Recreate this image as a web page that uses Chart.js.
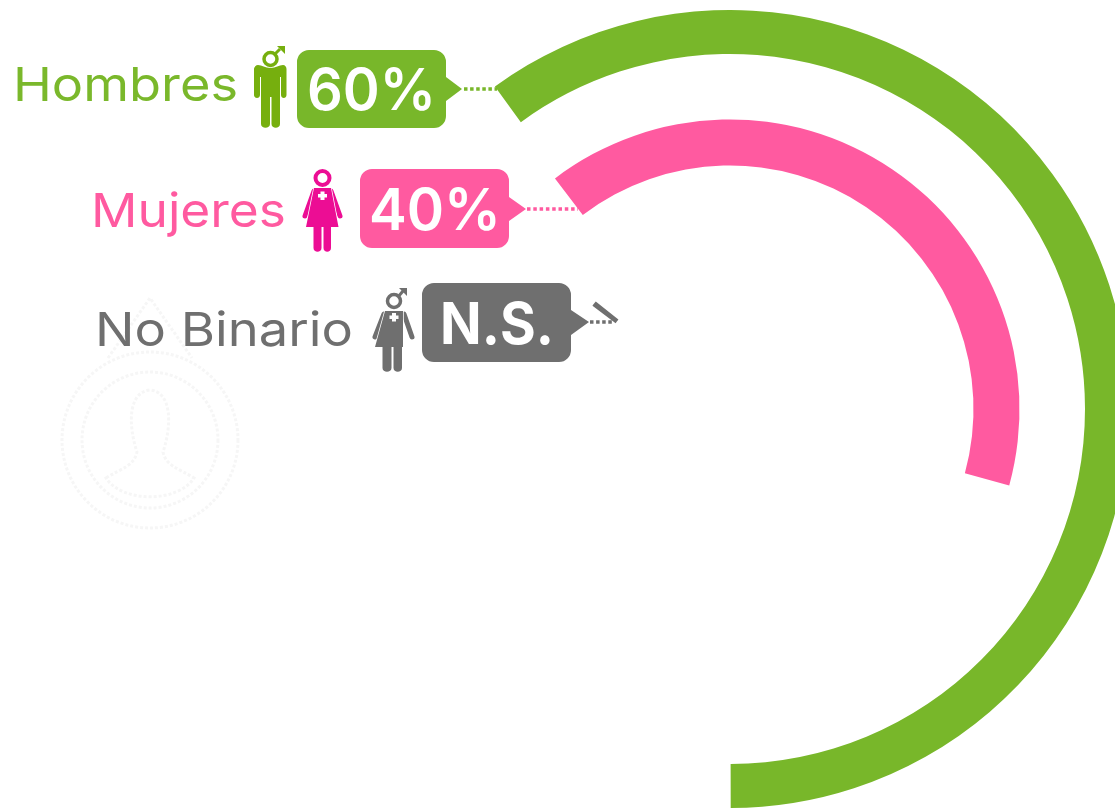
<!DOCTYPE html>
<html lang="es"><head><meta charset="utf-8">
<script src="https://cdn.jsdelivr.net/npm/chart.js@4"></script>
<style>
html,body{margin:0;padding:0;width:1115px;height:808px;overflow:hidden;background:#fff}
#wrap{position:relative;width:1115px;height:808px;overflow:hidden}
#c{position:absolute;left:331px;top:10px}
svg{position:absolute;left:0;top:0}
text{font-family:Inter,"Open Sans",sans-serif}
</style></head><body>
<div id="wrap">
<svg width="1115" height="808" viewBox="0 0 1115 808" xmlns="http://www.w3.org/2000/svg">
 <!-- faint stamp -->
 <g fill="none" stroke="#f6f6f6" stroke-width="3" stroke-dasharray="3 2">
  <circle cx="150" cy="440" r="88"/><circle cx="150" cy="440" r="68"/>
  <path d="M108 358L150 298L192 358"/>
  <path d="M106 478C122 468 134 466 137 452C128 425 128 392 150 390C172 392 172 425 163 452C166 466 178 468 194 478C178 503 122 503 106 478Z"/>
 </g>
 <!-- Hombres -->
 <text x="13" y="101" font-size="47" fill="#7AB82B" textLength="225" lengthAdjust="spacingAndGlyphs">Hombres</text>
 <g fill="#76AF0E">
  <circle cx="270.5" cy="59" r="6.5" fill="none" stroke="#76AF0E" stroke-width="3.5"/>
  <path d="M274 55L280 49" stroke="#76AF0E" stroke-width="3" />
  <path d="M277 46H285V54Z"/>
  <path d="M258 65C262 65 265 68 270.5 68C276 68 279 65 283 65C285 65 286.500 67 286.500 69V95C286.500 99 281 99 281 95V77H280V124C280 129 271.500 129 271.500 124V97H270V124C270 129 261 129 261 124V77H260V95C260 99 254 99 254 95V69C254 67 256 65 258 65Z"/>
 </g>
 <path d="M309 50H434a12 12 0 0 1 12 12V77L462 89L446 101V116a12 12 0 0 1-12 12H309a12 12 0 0 1-12-12V62a12 12 0 0 1 12-12Z" fill="#78B72A"/>
 <text x="307" y="110" font-size="58" font-weight="600" fill="#fff" textLength="129" lengthAdjust="spacingAndGlyphs">60%</text>
 <path d="M464 89H497" stroke="#78B72A" stroke-width="3.5" stroke-dasharray="3.500 2.600"/>
 <!-- Mujeres -->
 <text x="91" y="227" font-size="47" fill="#FF5AA0" textLength="195" lengthAdjust="spacingAndGlyphs">Mujeres</text>
 <g fill="#EC0D94">
  <circle cx="322.500" cy="178" r="7" fill="none" stroke="#EC0D94" stroke-width="4"/>
  <path d="M314 191L305 216M331 191L340 216" stroke="#EC0D94" stroke-width="5" stroke-linecap="round" fill="none"/>
  <path d="M314 188H331L338.500 227H331V248C331 253 323.500 253 323.500 248V227H321.500V248C321.500 253 313.500 253 313.500 248V227H306Z" stroke="#fff" stroke-width="1.500" paint-order="stroke"/>
  <path d="M320.500 191.500h4v2.500h2.500v3.500h-2.500v2.500h-4v-2.500h-2.500v-3.500h2.500Z" fill="#fff"/>
 </g>
 <path d="M372 169H497a12 12 0 0 1 12 12V197L526 209L509 221V236a12 12 0 0 1-12 12H372a12 12 0 0 1-12-12V181a12 12 0 0 1 12-12Z" fill="#FF5AA0"/>
 <text x="369" y="230" font-size="58" font-weight="600" fill="#fff" textLength="132" lengthAdjust="spacingAndGlyphs">40%</text>
 <path d="M527 209H578" stroke="#FF5AA0" stroke-width="3.5" stroke-dasharray="3.500 2.800"/>
 <!-- No Binario -->
 <text x="95" y="346" font-size="47" fill="#6F6F6F" textLength="258" lengthAdjust="spacingAndGlyphs">No Binario</text>
 <g fill="#6F6F6F">
  <circle cx="394" cy="301" r="6.500" fill="none" stroke="#6F6F6F" stroke-width="3.500"/>
  <path d="M398 297L403 291" stroke="#6F6F6F" stroke-width="3"/>
  <path d="M399 288H407V296Z"/>
  <path d="M384 314L375 337M404 314L412 337" stroke="#6F6F6F" stroke-width="5" stroke-linecap="round" fill="none"/>
  <path d="M385 311H403V347H402V368C402 373 393.500 373 393.500 368V347H391.500V368C391.500 373 382.500 373 382.500 368V347H375Z" stroke="#fff" stroke-width="1.500" paint-order="stroke"/>
  <path d="M392 313h4v2.500h2.500v3.500h-2.500v2.500h-4v-2.500h-2.500v-3.500h2.500Z" fill="#fff"/>
 </g>
 <path d="M434 283H559a12 12 0 0 1 12 12V310L589 322L571 335V350a12 12 0 0 1-12 12H434a12 12 0 0 1-12-12V295a12 12 0 0 1 12-12Z" fill="#6F6F6F"/>
 <text x="440" y="344" font-size="58" font-weight="700" fill="#fff" textLength="114" lengthAdjust="spacingAndGlyphs">N.S.</text>
 <path d="M590 322H613" stroke="#6F6F6F" stroke-width="3.500" stroke-dasharray="3.500 2.600"/>
</svg>
<canvas id="c" width="798" height="798"></canvas>
</div>
<script>
const categories = ["Hombres", "Mujeres", "No Binario"];
const percentLabels = ["60%", "40%", "N.S."];
const hombres = [60, 40];
const mujeres = [40, 60];
const noBinario = [0.5, 99.5];
const spacer = [1];
const colors = ["#78B72A", "#FF5AA0", "#6F6F6F"];
const none = "rgba(0,0,0,0)";

function ring(label, data, color, rotation, circumference, weight) {
  return { label, data, weight, rotation, circumference, borderWidth: 0,
           backgroundColor: [color, none], hoverBackgroundColor: [color, none] };
}
function gap(weight) {
  return { label: "", data: spacer, weight, borderWidth: 0, backgroundColor: [none], hoverBackgroundColor: [none] };
}
new Chart(document.getElementById("c"), {
  type: "doughnut",
  data: {
    labels: [categories[0], "resto"],
    datasets: [
      ring(categories[0], hombres, colors[0], -36.1, 360, 44),
      gap(65.5),
      ring(categories[1], mujeres, colors[1], -37.2, 356.25, 46),
      gap(71.5),
      ring(categories[2], noBinario, colors[2], -53.1, 360, 29)
    ]
  },
  options: {
    responsive: false,
    animation: false,
    cutout: 143,
    layout: { padding: 0 },
    plugins: { legend: { display: false }, tooltip: { enabled: false } }
  }
});
</script>
</body></html>
